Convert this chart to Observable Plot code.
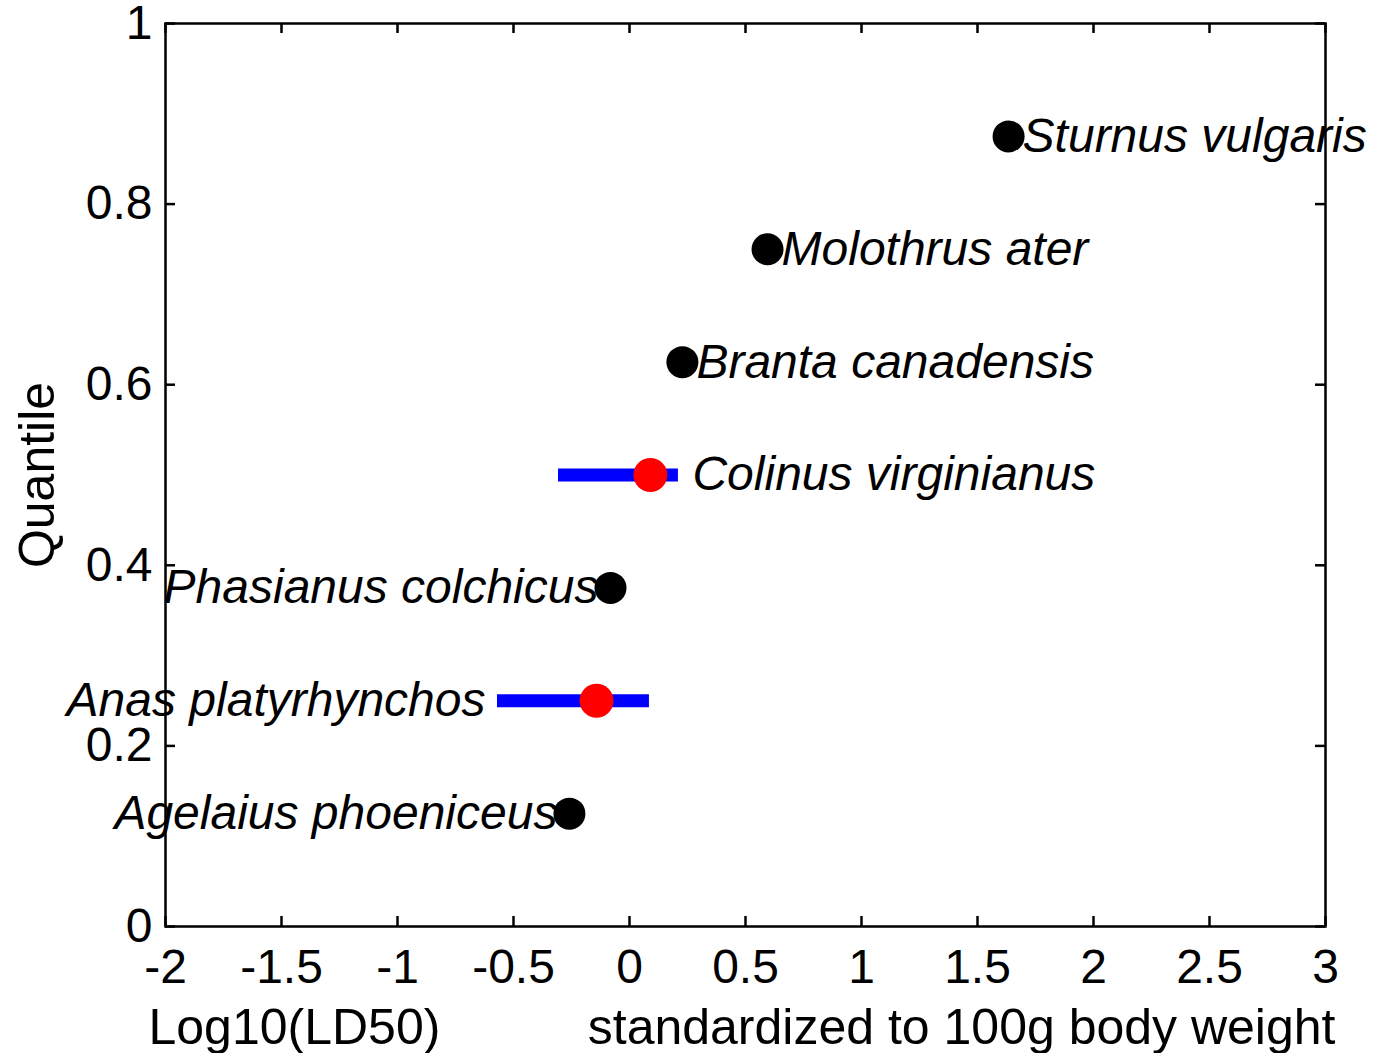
<!DOCTYPE html>
<html>
<head>
<meta charset="utf-8">
<script src="https://cdn.jsdelivr.net/npm/d3@7"></script>
<script src="https://cdn.jsdelivr.net/npm/@observablehq/plot@0.6"></script>
<style>
  html, body { margin: 0; padding: 0; background: white; }
</style>
</head>
<body>
<div id="chart"></div>
<script>
// ---- data ----
const species = ["Sturnus vulgaris", "Molothrus ater", "Branta canadensis", "Colinus virginianus", "Phasianus colchicus", "Anas platyrhynchos", "Agelaius phoeniceus"];
const ld50 = [1.634, 0.595, 0.228, 0.09, -0.082, -0.142, -0.259];
const quantile = [0.875, 0.75, 0.625, 0.5, 0.375, 0.25, 0.125];
const lower = [null, null, null, -0.306, null, -0.569, null];
const upper = [null, null, null, 0.211, null, 0.086, null];
const labelSide = ["right", "right", "right", "right", "left", "left", "left"];
const xTicks = [-2, -1.5, -1, -0.5, 0, 0.5, 1, 1.5, 2, 2.5, 3];
const yTicks = [0, 0.2, 0.4, 0.6, 0.8, 1];
const xLabelLeft = "Log10(LD50)";
const xLabelRight = "standardized to 100g body weight";
const yLabel = "Quantile";

// ---- table ----
const rows = species.map((s, i) => ({
  name: s, x: ld50[i], y: quantile[i], lo: lower[i], hi: upper[i], side: labelSide[i],
  hasCI: lower[i] != null
}));
const ci = rows.filter(d => d.hasCI);
const labelX = d => d.hasCI ? (d.side === "right" ? d.hi : d.lo) : d.x;

const W = 1377, H = 1053;
const mL = 165, mR = 52, mT = 23, mB = 127;
const pw = W - mL - mR, ph = H - mT - mB;
const tick = 10, sw = 2.5;

const chart = Plot.plot({
  width: W, height: H,
  marginLeft: mL, marginRight: mR, marginTop: mT, marginBottom: mB,
  x: {domain: [-2, 3]},
  y: {domain: [0, 1]},
  style: {fontFamily: "'Liberation Sans', Arial, sans-serif", background: "white", color: "black", overflow: "visible"},
  marks: [
    Plot.ruleY(ci, {y: "y", x1: "lo", x2: "hi", stroke: "blue", strokeWidth: 13}),
    Plot.dot(rows.filter(d => !d.hasCI), {x: "x", y: "y", r: 16, fill: "black", stroke: null}),
    Plot.dot(ci, {x: "x", y: "y", r: 17, fill: "red", stroke: null}),
    Plot.frame({stroke: "black", strokeWidth: sw}),
    Plot.tickX(xTicks, {x: d => d, insetTop: ph - tick, stroke: "black", strokeWidth: sw}),
    Plot.tickX(xTicks, {x: d => d, insetBottom: ph - tick, stroke: "black", strokeWidth: sw}),
    Plot.tickY(yTicks, {y: d => d, insetLeft: pw - tick, stroke: "black", strokeWidth: sw}),
    Plot.tickY(yTicks, {y: d => d, insetRight: pw - tick, stroke: "black", strokeWidth: sw}),
    Plot.axisX(xTicks, {tickSize: 0, tickPadding: 22, fontSize: 48, tickFormat: d => String(d), label: null}),
    Plot.axisY(yTicks, {tickSize: 0, tickPadding: 13, fontSize: 48, tickFormat: d => String(d), label: null}),
    Plot.text(rows.filter(d => d.side === "right"), {x: labelX, y: "y", text: "name", textAnchor: "start", dx: 14, fontSize: 48, fontStyle: "italic", fill: "black"}),
    Plot.text(rows.filter(d => d.side === "left"), {x: labelX, y: "y", text: "name", textAnchor: "end", dx: -12, fontSize: 48, fontStyle: "italic", fill: "black"}),
    Plot.text([xLabelLeft], {text: d => d, frameAnchor: "bottom-left", textAnchor: "start", lineAnchor: "middle", dx: -17, dy: 101, fontSize: 50, fill: "black"}),
    Plot.text([xLabelRight], {text: d => d, frameAnchor: "bottom-right", textAnchor: "end", lineAnchor: "middle", dx: 10, dy: 101, fontSize: 50, fill: "black"}),
    Plot.text([yLabel], {text: d => d, frameAnchor: "left", textAnchor: "middle", lineAnchor: "middle", rotate: -90, dx: -128, fontSize: 50, fill: "black"})
  ]
});
document.getElementById("chart").appendChild(chart);
</script>
</body>
</html>
